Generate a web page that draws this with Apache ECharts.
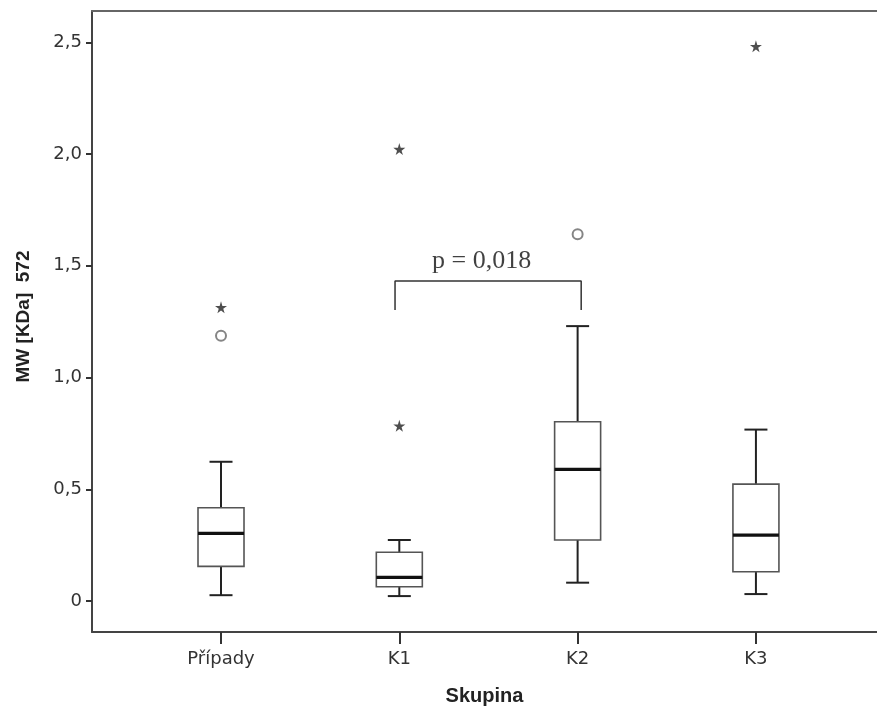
<!DOCTYPE html>
<html>
<head>
<meta charset="utf-8">
<script src="https://cdn.jsdelivr.net/npm/echarts@6/dist/echarts.min.js"></script>
<style>
  html, body { margin: 0; padding: 0; background: #fff; }
  #chart { width: 877px; height: 714px; }
</style>
</head>
<body>
<div id="chart"></div>
<script>
  // skupiny
  var categories = ['Případy', 'K1', 'K2', 'K3'];
  // boxplot: dolni vous, Q1, median, Q3, horni vous
  var whiskerLow = [0.026, 0.022, 0.082, 0.031];
  var q1 = [0.155, 0.064, 0.273, 0.131];
  var median = [0.303, 0.106, 0.589, 0.295];
  var q3 = [0.417, 0.218, 0.802, 0.523];
  var whiskerHigh = [0.623, 0.273, 1.230, 0.767];
  // odlehle hodnoty [skupina, hodnota]
  var outliers = [[0, 1.187], [2, 1.641]];
  var extremes = [[0, 1.314], [1, 2.022], [1, 0.784], [3, 2.482]];
  // osa y
  var yTicks = [0, 0.5, 1.0, 1.5, 2.0, 2.5];
  // zavorka s p-hodnotou
  var bracket = [[0.976, 1.302], [0.976, 1.432], [2.02, 1.432], [2.02, 1.302]];
  var pText = 'p = 0,018';
  var pTextPos = [1.462, 1.432];

  var boxData = categories.map(function (c, i) {
    return [i, whiskerLow[i], q1[i], median[i], q3[i], whiskerHigh[i]];
  });

  var starPath = 'path://M50,0 L61,35 L98,35 L68,57 L79,91 L50,70 L21,91 L32,57 L2,35 L39,35 Z';

  function renderBox(params, api) {
    var x = api.value(0);
    var pLow = api.coord([x, api.value(1)]);
    var pQ1 = api.coord([x, api.value(2)]);
    var pMed = api.coord([x, api.value(3)]);
    var pQ3 = api.coord([x, api.value(4)]);
    var pHigh = api.coord([x, api.value(5)]);
    var half = api.size([0.129, 0])[0];
    var cap = half / 2;
    var cx = pMed[0];
    var lineStyle = { stroke: '#222', lineWidth: 2 };
    return {
      type: 'group',
      children: [
        { type: 'line', shape: { x1: cx, y1: pQ3[1], x2: cx, y2: pHigh[1] }, style: lineStyle },
        { type: 'line', shape: { x1: cx, y1: pQ1[1], x2: cx, y2: pLow[1] }, style: lineStyle },
        { type: 'line', shape: { x1: cx - cap, y1: pHigh[1], x2: cx + cap, y2: pHigh[1] }, style: lineStyle },
        { type: 'line', shape: { x1: cx - cap, y1: pLow[1], x2: cx + cap, y2: pLow[1] }, style: lineStyle },
        {
          type: 'rect',
          shape: { x: cx - half, y: pQ3[1], width: half * 2, height: pQ1[1] - pQ3[1] },
          style: { fill: '#fff', stroke: '#555', lineWidth: 1.6 }
        },
        { type: 'line', shape: { x1: cx - half, y1: pMed[1], x2: cx + half, y2: pMed[1] }, style: { stroke: '#111', lineWidth: 3.2 } }
      ]
    };
  }

  var chart = echarts.init(document.getElementById('chart'));
  var option = {
    backgroundColor: '#ffffff',
    animation: false,
    grid: { left: 92, right: 0, top: 11, bottom: 82 },
    xAxis: [{
      type: 'value',
      min: -0.7235,
      max: 3.679,
      name: 'Skupina',
      nameLocation: 'middle',
      nameGap: 54,
      nameTextStyle: { fontFamily: 'Liberation Sans', fontWeight: 'bold', fontSize: 20, color: '#222' },
      splitLine: { show: false },
      axisLine: { show: true, onZero: false, lineStyle: { color: '#444', width: 2 } },
      axisTick: { show: true, length: 12, lineStyle: { color: '#333', width: 2 }, customValues: [0, 1, 2, 3] },
      axisLabel: {
        customValues: [0, 1, 2, 3],
        margin: 18,
        fontFamily: 'DejaVu Sans',
        fontSize: 18,
        color: '#333',
        formatter: function (v) { return categories[Math.round(v)]; }
      }
    }, {
      type: 'value',
      position: 'top',
      min: -0.7235,
      max: 3.679,
      splitLine: { show: false },
      axisLine: { show: true, onZero: false, lineStyle: { color: '#666', width: 2 } },
      axisTick: { show: false },
      axisLabel: { show: false }
    }],
    yAxis: {
      type: 'value',
      min: -0.1387,
      max: 2.640,
      name: 'MW [KDa]  572',
      nameLocation: 'middle',
      nameGap: 59,
      nameTextStyle: { fontFamily: 'Liberation Sans', fontWeight: 'bold', fontSize: 19, color: '#222', padding: [0, 0, 0, 10] },
      splitLine: { show: false },
      axisLine: { show: true, onZero: false, lineStyle: { color: '#444', width: 2 } },
      axisTick: { show: true, length: 6, lineStyle: { color: '#333', width: 2 }, customValues: yTicks },
      axisLabel: {
        customValues: yTicks,
        margin: 10,
        fontFamily: 'DejaVu Sans',
        fontSize: 18,
        color: '#333',
        formatter: function (v) { return v === 0 ? '0' : v.toFixed(1).replace('.', ','); }
      }
    },
    series: [
      {
        type: 'custom',
        name: 'box',
        renderItem: renderBox,
        encode: { x: 0, y: [1, 2, 3, 4, 5] },
        data: boxData
      },
      {
        type: 'scatter',
        name: 'outliers',
        symbol: 'emptyCircle',
        symbolSize: 10,
        itemStyle: { color: '#666', borderWidth: 1.6 },
        data: outliers
      },
      {
        type: 'scatter',
        name: 'extremes',
        symbol: starPath,
        symbolSize: 12,
        itemStyle: { color: '#222' },
        data: extremes
      },
      {
        type: 'line',
        name: 'bracket',
        symbol: 'none',
        lineStyle: { color: '#333', width: 1.5 },
        data: bracket
      },
      {
        type: 'scatter',
        name: 'pvalue',
        symbolSize: 0,
        silent: true,
        label: {
          show: true,
          position: 'top',
          distance: 7,
          formatter: pText,
          fontFamily: 'Liberation Serif',
          fontSize: 26,
          color: '#111'
        },
        data: [pTextPos]
      }
    ]
  };
  chart.setOption(option);
</script>
</body>
</html>
